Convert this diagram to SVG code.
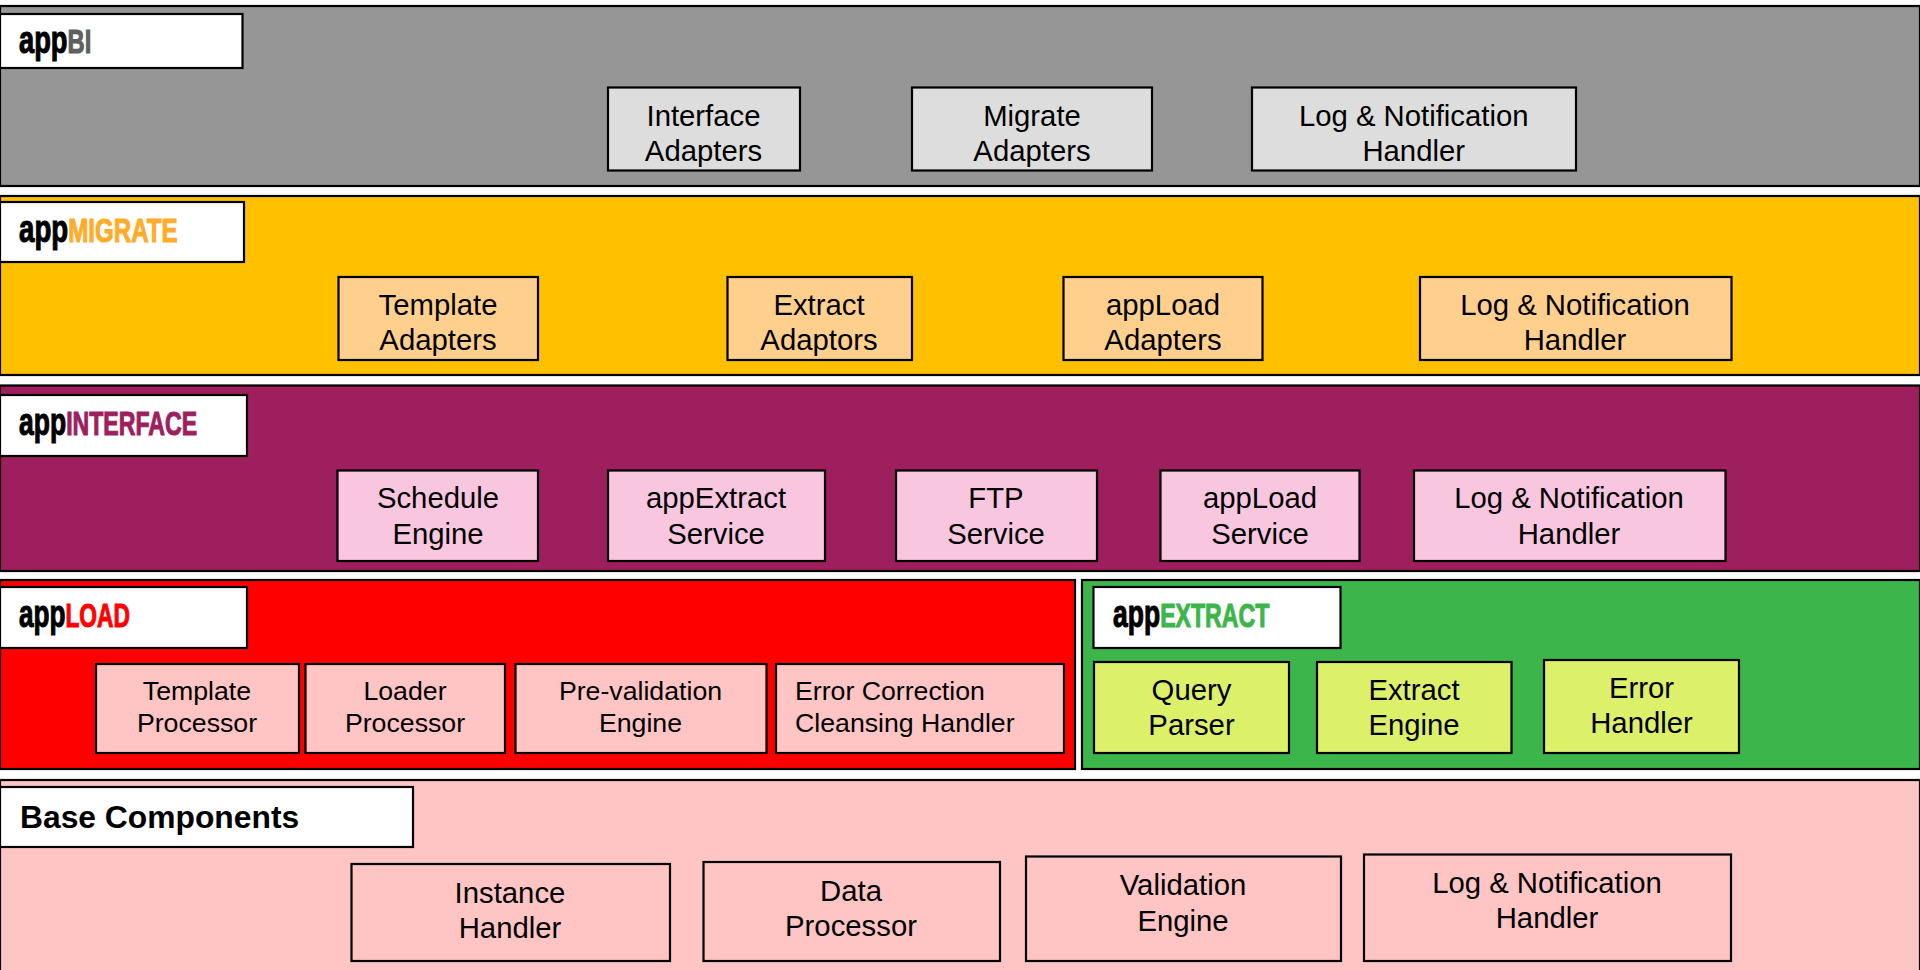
<svg xmlns="http://www.w3.org/2000/svg" width="1920" height="970" viewBox="0 0 1920 970">
<style>
rect{stroke:#000;stroke-width:2.2}
text{font-family:"Liberation Sans",Arial,sans-serif;fill:#000;text-anchor:middle}
.t{font-size:29.3px}
.s{font-size:26.7px}
.l{text-anchor:start;font-size:26.7px}
.h{text-anchor:start;font-size:34px;font-weight:bold;stroke-width:1.1px}
.a{font-size:39px;fill:#000;stroke:#000}
.w{fill:#fff}
.bi{fill:#969696}.bin{fill:#ddd}
.mi{fill:#ffc000}.min{fill:#ffd08d}
.in{fill:#9e1f5e}.inn{fill:#f9c6e0}
.lo{fill:#f00}.lon{fill:#ffc4c4}
.ex{fill:#3cb54a}.exn{fill:#dcf06a}
</style>
<rect width="1920" height="970" style="fill:#fff;stroke:none"/>
<g id="layer-bi">
<rect class="bi" x="0" y="6" width="1920" height="180"/>
<rect class="w" x="0" y="14" width="242.500" height="54"/>
<text class="h" transform="translate(19 53) scale(.7 1)" style="fill:#5f5f5f;stroke:#5f5f5f"><tspan class="a">app</tspan>BI</text>
</g>
<g id="layer-migrate">
<rect class="mi" x="0" y="196" width="1920" height="179"/>
<rect class="w" x="0" y="202" width="244" height="60"/>
<text class="h" transform="translate(19 242) scale(.71 1)" style="fill:#ffac2a;stroke:#ffac2a"><tspan class="a">app</tspan>MIGRATE</text>
</g>
<g id="layer-interface">
<rect class="in" x="0" y="385.500" width="1920" height="185.500"/>
<rect class="w" x="0" y="395" width="247" height="61"/>
<text class="h" transform="translate(19 435) scale(.68 1)" style="fill:#9e1f5e;stroke:#9e1f5e"><tspan class="a">app</tspan>INTERFACE</text>
</g>
<g id="layer-load">
<rect class="lo" x="0" y="580" width="1075" height="189"/>
<rect class="w" x="0" y="587" width="247" height="61"/>
<text class="h" transform="translate(19 627) scale(.67 1)" style="fill:#f00;stroke:#f00"><tspan class="a">app</tspan>LOAD</text>
</g>
<g id="layer-extract">
<rect class="ex" x="1082" y="580" width="838" height="189"/>
<rect class="w" x="1093.500" y="587" width="247" height="61"/>
<text class="h" transform="translate(1113 627) scale(.68 1)" style="fill:#3cb54a;stroke:#3cb54a"><tspan class="a">app</tspan>EXTRACT</text>
</g>
<g id="layer-base">
<rect class="lon" x="0" y="780" width="1920" height="195"/>
<rect class="w" x="0" y="787" width="413" height="60"/>
<text x="20" y="828" style="text-anchor:start;font-size:31.800px;font-weight:bold">Base Components</text>
</g>
<g id="connectors"/>
<g id="bi-interface"><rect class="bin" x="608" y="87.500" width="192" height="83"/><text class="t" x="703.500" y="126">Interface</text><text class="t" x="703.500" y="161">Adapters</text></g>
<g id="bi-migrate"><rect class="bin" x="912" y="87.500" width="240" height="83"/><text class="t" x="1032" y="126">Migrate</text><text class="t" x="1032" y="161">Adapters</text></g>
<g id="bi-log"><rect class="bin" x="1252" y="87.500" width="324" height="83"/><text class="t" x="1413.700" y="126">Log &amp; Notification</text><text class="t" x="1413.700" y="161">Handler</text></g>
<g id="mi-template"><rect class="min" x="338.500" y="277" width="199.500" height="83"/><text class="t" x="438" y="315">Template</text><text class="t" x="438" y="349.500">Adapters</text></g>
<g id="mi-extract"><rect class="min" x="727.500" y="277" width="184.500" height="83"/><text class="t" x="819" y="315">Extract</text><text class="t" x="819" y="349.500">Adaptors</text></g>
<g id="mi-load"><rect class="min" x="1063.500" y="277" width="199" height="83"/><text class="t" x="1163" y="315">appLoad</text><text class="t" x="1163" y="349.500">Adapters</text></g>
<g id="mi-log"><rect class="min" x="1420" y="277" width="311.500" height="83"/><text class="t" x="1575" y="315">Log &amp; Notification</text><text class="t" x="1575" y="349.500">Handler</text></g>
<g id="in-schedule"><rect class="inn" x="337.500" y="470.500" width="200.500" height="90.500"/><text class="t" x="438" y="508">Schedule</text><text class="t" x="438" y="544">Engine</text></g>
<g id="in-extract"><rect class="inn" x="608" y="470.500" width="217" height="90.500"/><text class="t" x="716" y="508">appExtract</text><text class="t" x="716" y="544">Service</text></g>
<g id="in-ftp"><rect class="inn" x="896" y="470.500" width="201" height="90.500"/><text class="t" x="996" y="508">FTP</text><text class="t" x="996" y="544">Service</text></g>
<g id="in-load"><rect class="inn" x="1160.500" y="470.500" width="199" height="90.500"/><text class="t" x="1260" y="508">appLoad</text><text class="t" x="1260" y="544">Service</text></g>
<g id="in-log"><rect class="inn" x="1414" y="470.500" width="311.500" height="90.500"/><text class="t" x="1569" y="508">Log &amp; Notification</text><text class="t" x="1569" y="544">Handler</text></g>
<g id="lo-template"><rect class="lon" x="96" y="664" width="203" height="89"/><text class="s" x="197" y="700">Template</text><text class="s" x="197" y="732">Processor</text></g>
<g id="lo-loader"><rect class="lon" x="305.500" y="664" width="199.500" height="89"/><text class="s" x="405" y="700">Loader</text><text class="s" x="405" y="732">Processor</text></g>
<g id="lo-prevalidation"><rect class="lon" x="515.500" y="664" width="251" height="89"/><text class="s" x="640.500" y="700">Pre-validation</text><text class="s" x="640.500" y="732">Engine</text></g>
<g id="lo-error"><rect class="lon" x="776" y="664" width="288" height="89"/><text class="l" x="795" y="700">Error Correction</text><text class="l" x="795" y="732">Cleansing Handler</text></g>
<g id="ex-query"><rect class="exn" x="1094" y="662" width="195" height="91"/><text class="t" x="1191.500" y="700">Query</text><text class="t" x="1191.500" y="735">Parser</text></g>
<g id="ex-extract"><rect class="exn" x="1317" y="662" width="194.500" height="91"/><text class="t" x="1414" y="700">Extract</text><text class="t" x="1414" y="735">Engine</text></g>
<g id="ex-error"><rect class="exn" x="1544" y="660" width="195" height="93"/><text class="t" x="1641.500" y="698">Error</text><text class="t" x="1641.500" y="733">Handler</text></g>
<g id="ba-instance"><rect class="lon" x="351.500" y="864" width="318.500" height="97"/><text class="t" x="510" y="903">Instance</text><text class="t" x="510" y="938">Handler</text></g>
<g id="ba-data"><rect class="lon" x="703.500" y="862" width="296.500" height="99"/><text class="t" x="851" y="901">Data</text><text class="t" x="851" y="936">Processor</text></g>
<g id="ba-validation"><rect class="lon" x="1026" y="856.500" width="315" height="104.500"/><text class="t" x="1183" y="895">Validation</text><text class="t" x="1183" y="930.500">Engine</text></g>
<g id="ba-log"><rect class="lon" x="1364" y="854.500" width="367" height="106.500"/><text class="t" x="1547" y="893">Log &amp; Notification</text><text class="t" x="1547" y="928">Handler</text></g>
</svg>
